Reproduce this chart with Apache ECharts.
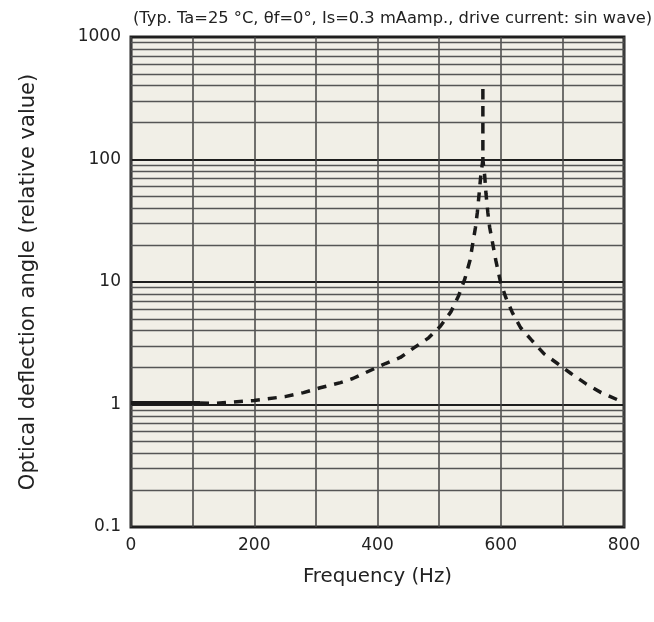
<!DOCTYPE html>
<html>
<head>
<meta charset="utf-8">
<script src="https://cdn.jsdelivr.net/npm/echarts@6/dist/echarts.min.js"></script>
<style>
html,body{margin:0;padding:0;background:#fff;}
#chart{width:654px;height:622px;}
</style>
</head>
<body>
<div id="chart"></div>
<script>
// Data
const titleText = '(Typ. Ta=25 °C, θf=0°, Is=0.3 mAamp., drive current: sin wave)';
const xTitle = 'Frequency (Hz)';
const yTitle = 'Optical deflection angle (relative value)';
const xTicks = [0, 200, 400, 600, 800];
const yTicks = [0.1, 1, 10, 100, 1000];
const minorGridValues = [0.2,0.3,0.4,0.5,0.6,0.7,0.8,0.9,
                         2,3,4,5,6,7,8,9,
                         20,30,40,50,60,70,80,90,
                         200,300,400,500,600,700,800,900];
const solidFreq = [0, 112];
const solidValue = [1.03, 1.03];
const dashFreq = [112, 135, 200, 250, 280, 307, 340, 360, 413, 437, 459, 483, 502, 519, 532, 542, 550, 559, 562, 565, 567.5, 571, 571, 571, 574, 576, 579, 582, 592, 599, 608, 619, 632, 649, 670, 692, 714, 738, 763, 792, 800];
const dashValue = [1.03, 1.02, 1.08, 1.16, 1.25, 1.37, 1.51, 1.63, 2.16, 2.42, 2.9, 3.5, 4.35, 5.7, 7.8, 10.7, 15, 28, 37, 53, 73, 100, 400, 100, 73, 53, 37, 28, 15, 10.3, 7.5, 5.6, 4.25, 3.4, 2.6, 2.16, 1.79, 1.48, 1.25, 1.08, 1.05];

const font = 'DejaVu Sans';
const chart = echarts.init(document.getElementById('chart'), null, {renderer: 'canvas'});
chart.setOption({
  animation: false,
  backgroundColor: '#ffffff',
  title: {
    text: titleText,
    left: 128, top: 6,
    textStyle: {fontFamily: font, fontSize: 16.3, fontWeight: 'normal', color: '#222'}
  },
  grid: {
    left: 131, right: 30, top: 37, bottom: 95,
    show: true, backgroundColor: '#f1efe7', borderColor: '#222', borderWidth: 3
  },
  xAxis: {
    type: 'value', min: 0, max: 800, interval: 100,
    name: xTitle, nameLocation: 'middle', nameGap: 40,
    nameTextStyle: {fontFamily: font, fontSize: 19.8, color: '#222'},
    axisLine: {show: false}, axisTick: {show: false},
    axisLabel: {fontFamily: font, fontSize: 17, color: '#222', margin: 10,
      formatter: v => xTicks.includes(v) ? String(v) : ''},
    splitLine: {show: true, lineStyle: {color: '#444', width: 1.5}}
  },
  yAxis: {
    type: 'log', logBase: 10, min: 0.1, max: 1000,
    name: yTitle, nameLocation: 'middle', nameGap: 92,
    nameTextStyle: {fontFamily: font, fontSize: 21, color: '#222'},
    axisLine: {show: false}, axisTick: {show: false},
    axisLabel: {fontFamily: font, fontSize: 17, color: '#222', margin: 10,
      formatter: v => { const t = yTicks.find(y => Math.abs(y - v) / y < 1e-6); return t !== undefined ? String(t) : ''; }},
    splitLine: {show: true, lineStyle: {color: '#1e1e1e', width: 2}}
  },
  series: [
    {
      type: 'line', data: [], z: 1, silent: true,
      markLine: {
        silent: true, symbol: 'none', animation: false,
        label: {show: false},
        lineStyle: {type: 'solid', color: '#555', width: 1.3},
        data: minorGridValues.map(v => ({yAxis: v}))
      }
    },
    {
      type: 'line', z: 5, symbol: 'none', silent: true,
      data: solidFreq.map((f, i) => [f, solidValue[i]]),
      lineStyle: {color: '#1a1a1a', width: 4, type: 'solid'}
    },
    {
      type: 'line', z: 5, symbol: 'none', silent: true,
      data: dashFreq.map((f, i) => [f, dashValue[i]]),
      lineStyle: {color: '#1a1a1a', width: 3.5, type: [9, 8]}
    }
  ]
});
</script>
</body>
</html>
